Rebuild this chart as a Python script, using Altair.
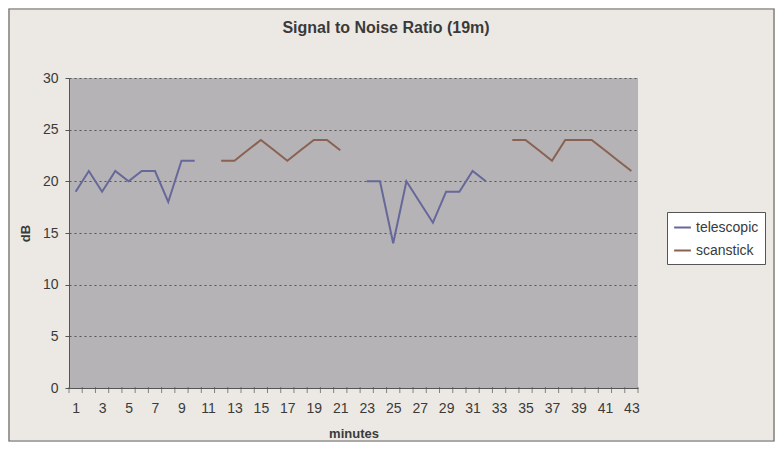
import altair as alt
import pandas as pd

minutes = list(range(1, 44))
telescopic = [19, 21, 19, 21, 20, 21, 21, 18, 22, 22,
              None, None, None, None, None, None, None, None, None, None, None, None,
              20, 20, 14, 20, 18, 16, 19, 19, 21, 20,
              None, None, None, None, None, None, None, None, None, None, None]
scanstick = [None, None, None, None, None, None, None, None, None, None, None,
             22, 22, 23, 24, 23, 22, 23, 24, 24, 23,
             None, None, None, None, None, None, None, None, None, None, None, None,
             24, 24, 23, 22, 24, 24, 24, 23, 22, 21]
series_names = ["telescopic", "scanstick"]
series_colors = ["#66679a", "#8a6253"]
y_ticks = [0, 5, 10, 15, 20, 25, 30]
x_labels = list(range(1, 44, 2))
x_tick_marks = [m + 0.5 for m in range(0, 44)]
title_text = "Signal to Noise Ratio (19m)"

rows = []
for name, vals in zip(series_names, [telescopic, scanstick]):
    seg = 0
    prev = None
    for m, v in zip(minutes, vals):
        if v is None:
            if prev is not None:
                seg += 1
            prev = None
            continue
        rows.append({"minute": m, "dB": v, "series": name, "seg": f"{name}-{seg}"})
        prev = v
df = pd.DataFrame(rows)

W, H = 569, 310
FONT = "Liberation Sans"
TXT = "#3a3a3a"

xscale = alt.Scale(domain=[0.5, 43.5], nice=False, zero=False)
yscale = alt.Scale(domain=[0, 30], nice=False)

x_axis = alt.Axis(values=x_labels, ticks=False, grid=False, title="minutes",
                  labelFontSize=14, labelColor=TXT, labelFont=FONT,
                  labelOverlap=False, labelFlush=False, labelBound=False,
                  labelPadding=13, domainColor="#555", titleFont=FONT,
                  titleFontSize=13, titleFontWeight="bold", titleColor=TXT,
                  titlePadding=12)

frame = alt.Chart(pd.DataFrame({"a": [0]})).mark_rect(
    fill=None, stroke="#6a6a6a", strokeWidth=1.2
).encode(
    x=alt.value(-60), x2=alt.value(705), y=alt.value(-69), y2=alt.value(363)
)

title = alt.Chart(pd.DataFrame({"t": [title_text]})).mark_text(
    font=FONT, fontSize=16, fontWeight="bold", color=TXT, align="center", baseline="middle"
).encode(
    text="t:N", x=alt.value(317), y=alt.value(-50)
)

lines = alt.Chart(df).mark_line(strokeWidth=2).encode(
    x=alt.X("minute:Q", scale=xscale, axis=x_axis),
    y=alt.Y("dB:Q", scale=yscale,
            axis=alt.Axis(values=y_ticks, title="dB", grid=True, gridColor="#555",
                          gridDash=[2, 3], gridWidth=1, tickSize=4, tickColor="#555",
                          domainColor="#555", labelFontSize=14, labelColor=TXT,
                          labelFont=FONT, labelPadding=7, titleFont=FONT,
                          titleFontSize=13, titleFontWeight="bold", titleColor=TXT,
                          titlePadding=10)),
    color=alt.Color("series:N", scale=alt.Scale(domain=series_names, range=series_colors),
                    legend=alt.Legend(title=None, orient="none", legendX=598, legendY=134,
                                      symbolType="stroke", symbolSize=280,
                                      symbolStrokeWidth=2, labelFont=FONT,
                                      labelFontSize=14, labelColor=TXT,
                                      fillColor="white", strokeColor="#555",
                                      padding=6, rowPadding=6, labelOffset=4)),
    detail="seg:N",
)

ticks = alt.Chart(pd.DataFrame({"t": x_tick_marks})).mark_tick(
    color="#555", thickness=1, size=6
).encode(
    x=alt.X("t:Q", scale=xscale, axis=x_axis),
    y=alt.value(H + 2),
)

chart = alt.layer(frame, title, lines, ticks).properties(
    width=W, height=H,
    autosize="none",
    padding={"left": 61, "top": 70, "right": 137, "bottom": 54},
).configure(background="#ece9e4").configure_view(fill="#b5b3b5", stroke=None)

chart.save("out.html", embed_options={"renderer": "svg", "actions": False})
